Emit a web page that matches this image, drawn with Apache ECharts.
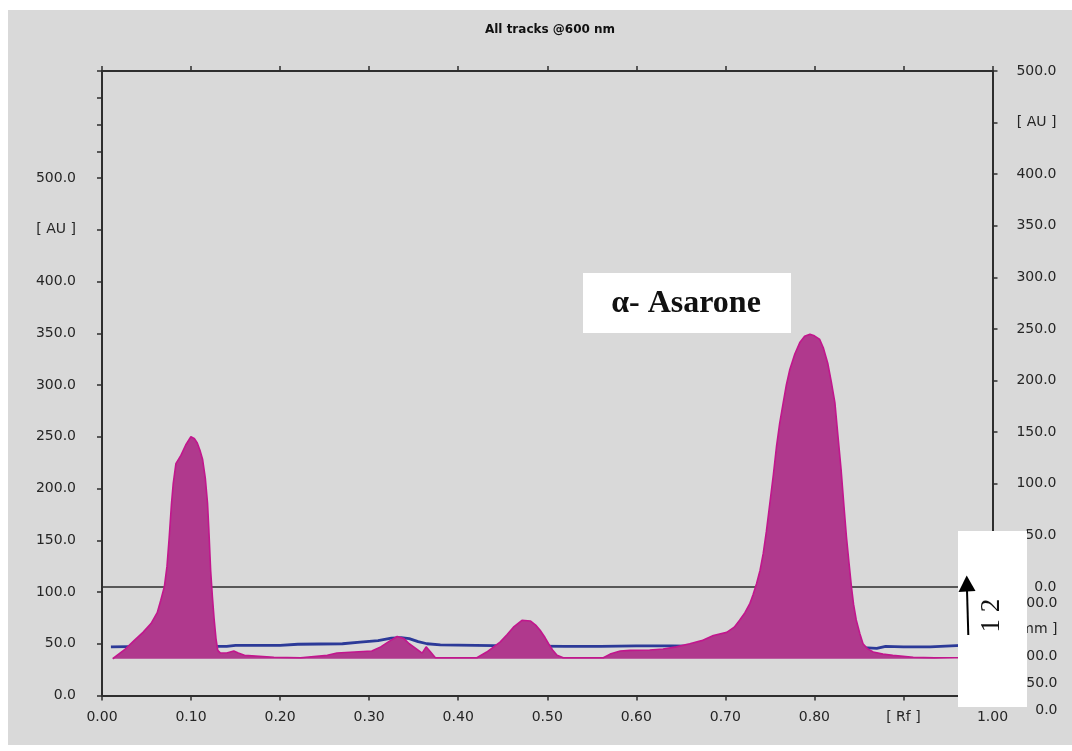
<!DOCTYPE html>
<html>
<head>
<meta charset="utf-8">
<script src="https://cdn.jsdelivr.net/npm/echarts@6/dist/echarts.min.js"></script>
<style>
  html, body { margin: 0; padding: 0; background: #ffffff; }
  #chart { width: 1072px; height: 751px; }
</style>
</head>
<body>
<div id="chart"></div>
<script>
// ---- Data ----
const chartTitle = 'All tracks @600 nm';
const peakLabel = 'α- Asarone';
const trackLabel = '1 2';

// Track 2 (magenta, filled)
const rfMagenta = [0.012,0.025,0.036,0.046,0.055,0.062,0.066,0.070,0.073,0.0755,0.078,0.080,0.083,0.0886,0.094,0.0998,0.104,0.107,0.110,0.113,0.116,0.1185,0.120,0.122,0.124,0.126,0.128,0.130,0.133,0.140,0.148,0.153,0.160,0.193,0.223,0.253,0.264,0.303,0.313,0.322,0.3315,0.339,0.345,0.350,0.3595,0.364,0.369,0.3744,0.421,0.432,0.447,0.455,0.462,0.4716,0.481,0.487,0.492,0.4975,0.5015,0.506,0.511,0.518,0.563,0.5706,0.582,0.593,0.615,0.630,0.645,0.660,0.6735,0.6865,0.7015,0.710,0.716,0.722,0.7276,0.731,0.735,0.739,0.7425,0.746,0.750,0.754,0.7575,0.761,0.765,0.7685,0.7724,0.778,0.7836,0.789,0.795,0.800,0.806,0.810,0.815,0.819,0.823,0.826,0.830,0.833,0.836,0.839,0.8416,0.844,0.847,0.851,0.8546,0.860,0.866,0.877,0.888,0.911,0.935,0.965];
const auMagenta = [35.5,44,53,61,69.5,80,92,105,125,153,185,205,224,232,242,250,248,244,237,228,210,186,160,121,95,73,55,43.6,41,41,43,41,38.8,37,36.5,38.8,41,43,47,52,57,55,50,47,41,47,42,36.5,36.5,42,51.6,59,66,72.7,72,68,63,56,50,44,38.8,36.5,36.5,40,43,43.6,44,45,47,50,53,58,61,66,72.7,80,89,97,108,121,137,158,186,214,241,263,283,300,315,330,341,347,349,347.5,344,336,321,303,283,255,218,185,153,127,105,88,73,60,50,45,42,40,38.8,37,36.5,36.5];
const magentaBaseline = 35.5;

// Track 1 (blue line)
const rfBlue = [0.010,0.050,0.140,0.150,0.200,0.220,0.270,0.290,0.310,0.325,0.336,0.345,0.355,0.365,0.380,0.420,0.460,0.520,0.560,0.600,0.640,0.680,0.860,0.870,0.880,0.900,0.930,0.965];
const auBlue = [47,47.5,47.5,48.5,48.5,49.5,50,51.6,53,55.5,56,55,52,50,49,48.5,48,47.5,47.5,48,48,47.5,46,45.5,47.5,47,47,48.5];

// Axis ticks / labels
const xUnitLabel = '[ Rf ]';   // replaces the 0.90 tick label
const xUnitAt = 0.9;
const auUnitLabel = '[ AU ]';  // replaces the 450.0 tick label
const auUnitAt = 450;
const mmUnitLabel = '[ mm ]';  // replaces the 150.0 tick label
const mmUnitAt = 150;

const magentaData = rfMagenta.map((x, i) => [x, auMagenta[i]]);
const blueData = rfBlue.map((x, i) => [x, auBlue[i]]);

const AX = '#2e2e2e';
const LBL = { fontFamily: 'DejaVu Sans', fontSize: 14, color: '#262626' };

const chart = echarts.init(document.getElementById('chart'), null, { renderer: 'canvas' });

const option = {
  backgroundColor: '#ffffff',
  animation: false,
  grid: [
    { left: 102, right: 79.5, top: 178, bottom: 55.5 },   // main data grid (0..500 AU)
    { left: 102, right: 79.5, top: 71, bottom: 164 },     // right AU axis (0..500)
    { left: 102, right: 79.5, top: 603, bottom: 41 },     // right mm axis (0..200)
    { left: 102, right: 79.5, top: 71, bottom: 573 }      // top frame + upper left ticks
  ],
  xAxis: [
    {
      gridIndex: 0, type: 'value', min: 0, max: 1, interval: 0.1,
      axisLine: { show: true, lineStyle: { color: AX, width: 2 } },
      axisTick: { show: true, inside: false, length: 5, lineStyle: { color: AX, width: 1.5 } },
      axisLabel: Object.assign({}, LBL, {
        margin: 15, showMinLabel: true, showMaxLabel: true,
        formatter: v => Math.abs(v - xUnitAt) < 1e-6 ? xUnitLabel : v.toFixed(2)
      }),
      splitLine: { show: false }
    },
    {
      gridIndex: 1, type: 'value', min: 0, max: 1,
      axisLine: { show: true, onZero: false, lineStyle: { color: AX, width: 1.5 } },
      axisTick: { show: false }, axisLabel: { show: false }, splitLine: { show: false }
    },
    { gridIndex: 2, type: 'value', min: 0, max: 1, show: false },
    {
      gridIndex: 3, type: 'value', position: 'top', min: 0, max: 1, interval: 0.1,
      axisLine: { show: true, onZero: false, lineStyle: { color: AX, width: 2 } },
      axisTick: { show: true, inside: false, length: 5, lineStyle: { color: AX, width: 1.5 } },
      axisLabel: { show: false }, splitLine: { show: false }
    }
  ],
  yAxis: [
    {
      gridIndex: 0, type: 'value', position: 'left', min: 0, max: 500, interval: 50,
      axisLine: { show: true, onZero: false, lineStyle: { color: AX, width: 2 } },
      axisTick: { show: true, inside: false, length: 5, lineStyle: { color: AX, width: 1.5 } },
      axisLabel: Object.assign({}, LBL, {
        margin: 26, padding: [10, 0, 0, 0],
        formatter: v => v === auUnitAt ? auUnitLabel : v.toFixed(1)
      }),
      splitLine: { show: false }
    },
    {
      gridIndex: 1, type: 'value', position: 'right', min: 0, max: 500, interval: 50,
      axisLine: { show: true, onZero: false, lineStyle: { color: AX, width: 2 } },
      axisTick: { show: true, inside: false, length: 5, lineStyle: { color: AX, width: 1.5 } },
      axisLabel: Object.assign({}, LBL, {
        margin: 64, align: 'right',
        formatter: v => v === auUnitAt ? auUnitLabel : v.toFixed(1)
      }),
      splitLine: { show: false }
    },
    {
      gridIndex: 2, type: 'value', position: 'right', min: 0, max: 200, interval: 50,
      axisLine: { show: false }, axisTick: { show: false },
      axisLabel: Object.assign({}, LBL, {
        margin: 65, align: 'right',
        formatter: v => v === mmUnitAt ? mmUnitLabel : v.toFixed(1)
      }),
      splitLine: { show: false }
    },
    {
      gridIndex: 3, type: 'value', position: 'left', min: 500, max: 600, interval: 25,
      axisLine: { show: true, onZero: false, lineStyle: { color: AX, width: 2 } },
      axisTick: { show: true, inside: false, length: 5, lineStyle: { color: AX, width: 1.5 } },
      axisLabel: { show: false }, splitLine: { show: false }
    }
  ],
  series: [
    {
      name: 'Track 1', type: 'line', xAxisIndex: 0, yAxisIndex: 0,
      data: blueData, showSymbol: false, symbol: 'none', z: 2,
      lineStyle: { color: '#2c3a98', width: 2.8 }
    },
    {
      name: 'Track 2', type: 'line', xAxisIndex: 0, yAxisIndex: 0,
      data: magentaData, showSymbol: false, symbol: 'none', z: 3,
      lineStyle: { color: '#c2168d', width: 1.6 },
      areaStyle: { color: '#b0398d', opacity: 1, origin: magentaBaseline }
    }
  ],
  graphic: [
    { type: 'rect', z: -100, silent: true, shape: { x: 8, y: 10, width: 1064, height: 735 }, style: { fill: '#d9d9d9' } },
    { type: 'text', z: 100, x: 550, y: 30, style: { text: chartTitle, align: 'center', verticalAlign: 'middle', fontFamily: 'DejaVu Sans', fontWeight: 'bold', fontSize: 12, fill: '#111' } },
    { type: 'rect', z: 100, shape: { x: 583, y: 273, width: 208, height: 60 }, style: { fill: '#ffffff' } },
    { type: 'text', z: 101, x: 686, y: 304, style: { text: peakLabel, align: 'center', verticalAlign: 'middle', fontFamily: 'Liberation Serif', fontWeight: 'bold', fontSize: 32, fill: '#111' } },
    { type: 'rect', z: 100, shape: { x: 958, y: 531, width: 69, height: 176 }, style: { fill: '#ffffff' } },
    { type: 'line', z: 101, shape: { x1: 968.3, y1: 635, x2: 967, y2: 590 }, style: { stroke: '#000', lineWidth: 2 } },
    { type: 'polygon', z: 101, shape: { points: [[966.7, 575.5], [958.5, 592], [975.5, 591]] }, style: { fill: '#000' } },
    { type: 'text', z: 101, x: 991.5, y: 615.5, rotation: Math.PI / 2, style: { text: trackLabel, align: 'center', verticalAlign: 'middle', fontFamily: 'Liberation Serif', fontSize: 27, fill: '#111' } }
  ]
};

chart.setOption(option);
</script>
</body>
</html>
